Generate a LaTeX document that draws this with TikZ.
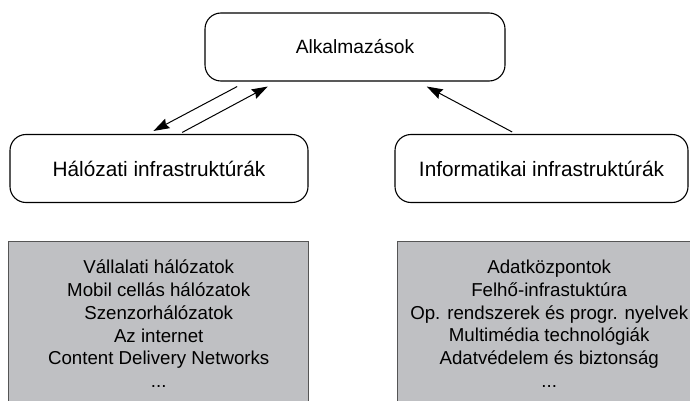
\documentclass[tikz,border=0pt]{standalone}
\usepackage{fontspec}
\setmainfont{Liberation Sans}
\usetikzlibrary{arrows.meta,positioning}
\definecolor{boxgray}{RGB}{191,192,195}
\definecolor{boxedge}{RGB}{85,85,85}

\begin{document}
\begin{tikzpicture}
    [x=1pt,y=-1pt,
     layer/.style={draw,line width=1.1pt,rounded corners=16pt,inner sep=0pt},
     areabox/.style={draw=boxedge,fill=boxgray,line width=1.4pt,inner sep=0pt,anchor=north west},
     areatext/.style={anchor=north,inner sep=0pt,align=center,font=\fontsize{18.7}{22.7}\selectfont},
     arr/.style={line width=1pt,-{Stealth[length=16pt,width=10.5pt,inset=2pt]}}]

    \useasboundingbox (0,0) rectangle (690,401);

    % upper layers
    \node[layer,minimum width=300pt,minimum height=68pt,font=\fontsize{19.2}{23}\selectfont]
        (app) at (355,47) {Alkalmazások};
    \node[layer,minimum width=298pt,minimum height=68pt,font=\fontsize{20.8}{25}\selectfont]
        (hal) at (159,168.5) {Hálózati infrastruktúrák};
    \node[layer,minimum width=293pt,minimum height=68pt,font=\fontsize{20.8}{25}\selectfont]
        (inf) at (541.5,168.5) {Informatikai infrastruktúrák};

    % arrows between the layers
    \draw[arr] ([shift={(32.7,5)}]app.south west) -- ([shift={(144,-3)}]hal.north west);
    \draw[arr] ([shift={(172.7,-1.5)}]hal.north west) -- ([shift={(63.3,5)}]app.south west);
    \draw[arr] ([shift={(117.7,-2)}]inf.north west) -- ([shift={(222.3,5)}]app.south west);

    % grey boxes with the lists
    \node[areabox,minimum width=300pt,minimum height=170pt] (halbox) at (8,241) {};
    \node[areabox,minimum width=303pt,minimum height=170pt] (infbox) at (397,241) {};

    \node[areatext] (hallist) at ([yshift=-19pt]halbox.north)
        {Vállalati hálózatok\\ Mobil cellás hálózatok\\ Szenzorhálózatok\\
         Az internet\\ Content Delivery Networks\\ ...};
    \node[areatext] (inflist) at ([yshift=-19pt]infbox.north)
        {Adatközpontok\\ Felhő-infrastuktúra\\ Op. rendszerek és progr. nyelvek\\
         Multimédia technológiák\\ Adatvédelem és biztonság\\ ...};
\end{tikzpicture}
\end{document}
